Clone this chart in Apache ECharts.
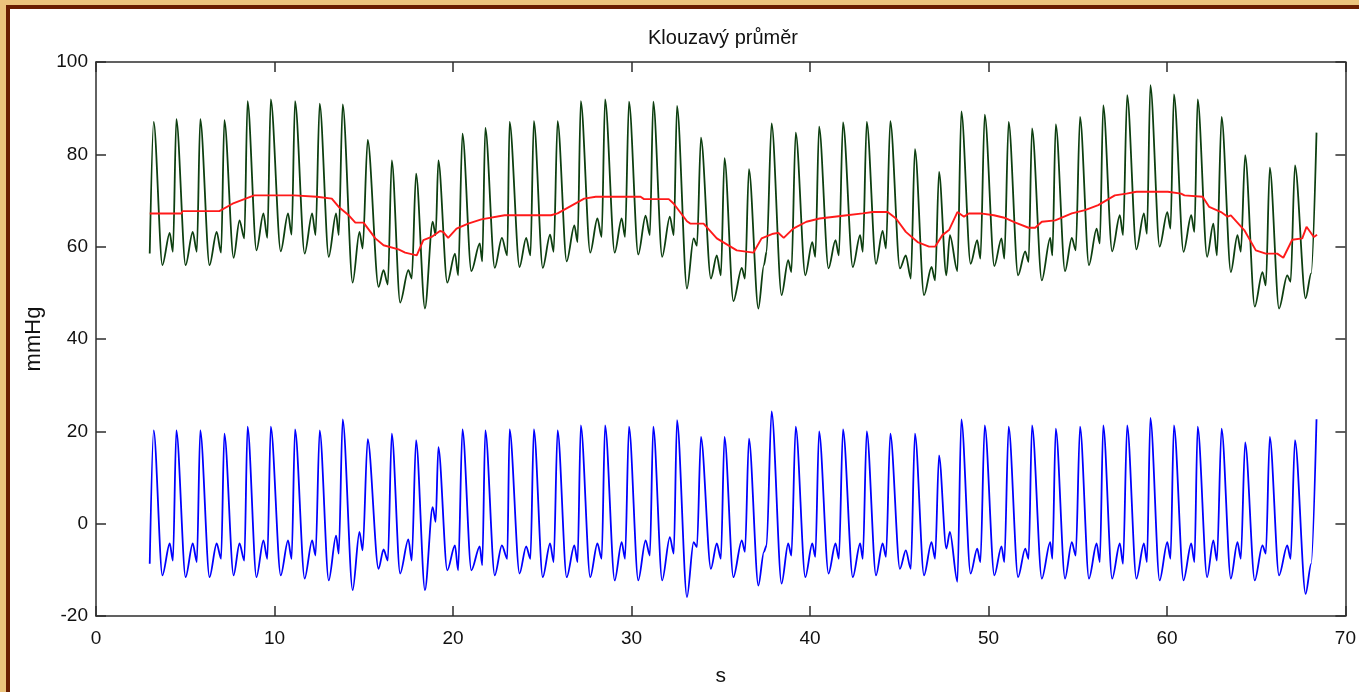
<!DOCTYPE html>
<html>
<head>
<meta charset="utf-8">
<script src="https://cdn.jsdelivr.net/npm/echarts@6/dist/echarts.min.js"></script>
<style>
html,body{margin:0;padding:0;background:#fff;}
#chart{width:1359px;height:692px;}
</style>
</head>
<body>
<div id="chart"></div>
<script>
// Key sample times (s) of the pressure waveform: start, then per beat peak / minimum / hump / pre-rise dip
const sampleTimes = [
  3.01,
  3.23, 3.72, 4.13, 4.31,
  4.50, 5.02, 5.42, 5.65,
  5.84, 6.36, 6.76, 7.01,
  7.19, 7.71, 8.04, 8.31,
  8.49, 8.99, 9.38, 9.60,
  9.79, 10.35, 10.76, 10.96,
  11.15, 11.69, 12.11, 12.30,
  12.53, 13.04, 13.45, 13.60,
  13.82, 14.38, 14.76, 14.94,
  15.22, 15.83, 16.11, 16.35,
  16.57, 17.04, 17.50, 17.69,
  17.93, 18.43, 18.86, 19.03,
  19.18, 19.68, 20.11, 20.29,
  20.53, 21.03, 21.50, 21.64,
  21.81, 22.34, 22.74, 23.04,
  23.17, 23.73, 24.10, 24.34,
  24.53, 25.03, 25.44, 25.64,
  25.86, 26.37, 26.80, 26.98,
  27.16, 27.69, 28.09, 28.33,
  28.52, 29.06, 29.45, 29.64,
  29.86, 30.38, 30.79, 31.03,
  31.22, 31.72, 32.15, 32.37,
  32.55, 33.11, 33.48, 33.67,
  33.89, 34.45, 34.78, 35.01,
  35.21, 35.71, 36.18, 36.36,
  36.58, 37.11, 37.42, 37.57,
  37.85, 38.41, 38.78, 38.96,
  39.20, 39.74, 40.13, 40.30,
  40.51, 41.04, 41.43, 41.62,
  41.85, 42.40, 42.81, 42.96,
  43.18, 43.70, 44.07, 44.26,
  44.50, 45.04, 45.37, 45.65,
  45.88, 46.39, 46.81, 47.01,
  47.23, 47.64, 47.84, 48.26,
  48.48, 49.00, 49.37, 49.55,
  49.79, 50.33, 50.73, 50.89,
  51.13, 51.66, 52.06, 52.25,
  52.44, 52.99, 53.46, 53.58,
  53.77, 54.29, 54.67, 54.89,
  55.13, 55.63, 56.06, 56.24,
  56.43, 56.93, 57.36, 57.54,
  57.77, 58.29, 58.71, 58.88,
  59.07, 59.59, 60.02, 60.20,
  60.39, 60.93, 61.36, 61.54,
  61.72, 62.25, 62.60, 62.80,
  63.06, 63.58, 63.95, 64.14,
  64.38, 64.92, 65.35, 65.54,
  65.76, 66.28, 66.74, 66.93,
  67.17, 67.77, 68.08,
  68.38
];

// Blood pressure signal (mmHg) at those times
const pressure = [
  58.5,
  87.0, 56.0, 63.0, 58.9,
  87.6, 56.0, 63.2, 58.9,
  87.6, 56.0, 63.2, 58.7,
  87.4, 57.6, 65.7, 61.8,
  91.5, 59.2, 67.2, 61.9,
  91.9, 59.0, 67.2, 62.6,
  91.5, 58.5, 67.2, 62.5,
  91.0, 57.8, 67.2, 62.5,
  90.8, 52.2, 63.2, 59.6,
  83.1, 51.3, 54.9, 51.8,
  78.7, 47.9, 54.9, 53.1,
  75.8, 46.6, 65.4, 62.5,
  78.7, 52.2, 58.5, 53.8,
  84.5, 54.7, 60.7, 56.8,
  85.7, 55.4, 61.9, 58.1,
  87.0, 55.6, 61.9, 58.1,
  87.2, 55.4, 62.6, 58.9,
  87.2, 56.8, 64.6, 61.0,
  91.5, 58.7, 66.1, 62.1,
  91.9, 58.7, 66.1, 62.1,
  91.4, 58.3, 66.7, 62.5,
  91.4, 57.8, 66.5, 62.5,
  90.5, 50.9, 61.8, 60.2,
  83.6, 53.1, 58.1, 53.8,
  79.2, 48.2, 55.4, 53.1,
  76.8, 46.6, 56.0, 58.9,
  86.7, 49.5, 57.1, 54.5,
  84.7, 53.8, 61.0, 57.8,
  86.0, 55.3, 61.4, 58.1,
  86.9, 55.6, 62.5, 58.9,
  87.0, 56.3, 63.4, 59.6,
  87.2, 55.3, 58.1, 53.1,
  81.1, 49.5, 55.6, 52.7,
  76.2, 53.8, 62.5, 54.7,
  89.3, 56.3, 61.4, 57.4,
  88.6, 55.8, 61.8, 57.4,
  87.0, 53.8, 59.0, 56.7,
  85.6, 52.7, 61.9, 58.1,
  86.5, 54.7, 61.9, 59.2,
  88.1, 56.0, 63.9, 60.7,
  90.6, 59.0, 66.8, 62.5,
  92.8, 59.4, 67.2, 62.8,
  95.0, 60.0, 67.5, 63.9,
  93.0, 58.9, 66.8, 63.2,
  91.9, 57.8, 65.0, 58.1,
  88.1, 54.5, 62.5, 58.9,
  79.8, 47.0, 54.5, 51.6,
  77.1, 46.6, 53.8, 52.4,
  77.6, 48.8, 54.2,
  84.7
];

// Signal with the moving average removed (mmHg) at the same times
const detrended = [
  -8.7,
  20.2, -11.2, -4.3, -8.0,
  20.2, -11.6, -4.3, -8.3,
  20.2, -11.6, -4.3, -7.6,
  19.5, -11.2, -4.3, -8.0,
  21.0, -11.6, -3.6, -7.6,
  21.0, -11.2, -3.6, -7.6,
  20.4, -11.9, -3.6, -6.9,
  20.2, -12.3, -2.6, -6.5,
  22.6, -14.4, -1.8, -5.8,
  18.3, -9.8, -5.6, -8.0,
  19.5, -10.8, -3.4, -8.0,
  18.1, -14.4, 3.6, 0.4,
  16.6, -10.1, -4.7, -10.1,
  20.4, -10.1, -4.9, -9.0,
  20.2, -11.2, -4.7, -7.6,
  20.4, -10.8, -4.9, -7.6,
  20.4, -11.6, -4.3, -8.3,
  20.2, -11.6, -4.7, -8.3,
  21.3, -11.6, -4.3, -7.6,
  21.3, -12.3, -4.0, -7.6,
  21.0, -12.3, -3.6, -6.9,
  21.0, -12.3, -2.9, -6.5,
  22.4, -15.9, -4.0, -5.1,
  18.8, -9.8, -4.3, -7.6,
  18.8, -11.6, -3.6, -6.1,
  18.4, -13.4, -6.1, -4.7,
  24.3, -13.0, -4.3, -6.9,
  21.0, -11.6, -4.3, -7.2,
  20.0, -10.8, -4.3, -7.6,
  20.4, -11.6, -4.3, -7.6,
  20.0, -11.2, -4.3, -7.2,
  19.5, -9.8, -5.8, -9.8,
  19.5, -11.2, -4.0, -7.6,
  14.8, -5.4, -1.8, -12.6,
  22.6, -10.8, -5.4, -8.3,
  21.3, -11.2, -4.9, -8.3,
  21.0, -11.6, -5.4, -7.6,
  21.3, -11.9, -4.0, -7.6,
  20.6, -11.9, -4.0, -6.9,
  21.0, -11.9, -4.3, -8.3,
  21.3, -11.9, -4.3, -8.7,
  21.3, -11.9, -4.3, -8.3,
  22.9, -12.3, -4.0, -7.6,
  21.3, -12.3, -4.3, -8.3,
  21.0, -11.6, -3.6, -8.0,
  20.6, -11.9, -4.0, -7.6,
  17.6, -12.3, -4.7, -6.5,
  18.8, -11.2, -4.7, -7.6,
  18.1, -15.2, -8.7,
  22.6
];

// Moving average (mmHg)
const avgTimes = [
  3.01, 4.78, 4.85, 6.91, 7.65, 8.86, 11.09, 11.20, 12.37, 12.43, 13.21, 13.60,
  14.16, 14.53, 14.99, 15.65, 16.11, 16.95, 17.32, 17.97, 18.34, 18.80, 19.27,
  19.45, 19.73, 20.20, 20.85, 21.59, 22.89, 25.49, 25.86, 27.35, 28.00, 30.51,
  30.70, 32.09, 32.37, 33.11, 33.29, 34.04, 34.78, 35.90, 36.83, 37.29, 37.94,
  38.22, 38.53, 39.06, 39.80, 40.54, 41.84, 42.96, 43.52, 44.35, 44.82, 45.37,
  46.03, 46.67, 47.01, 47.42, 47.79, 48.26, 48.63, 48.90, 49.55, 49.65, 50.30,
  50.95, 51.51, 52.25, 52.62, 52.99, 53.74, 54.67, 55.41, 56.15, 57.08, 57.73,
  58.29, 60.05, 60.79, 60.98, 62.00, 62.37, 63.03, 63.40, 63.58, 64.33, 64.98,
  65.54, 66.18, 66.52, 67.02, 67.58, 67.82, 68.23, 68.41
];
const avgValues = [
  67.2, 67.2, 67.7, 67.7, 69.3, 71.1, 71.1, 70.8, 70.8, 70.4, 70.4, 68.6,
  66.8, 65.2, 65.2, 61.8, 60.3, 59.4, 58.7, 58.1, 61.4, 62.1, 63.4,
  63.2, 61.9, 63.9, 65.0, 65.9, 66.8, 66.8, 67.2, 70.4, 70.8, 70.8,
  70.3, 70.3, 69.3, 65.5, 65.0, 65.0, 61.8, 59.2, 58.7, 61.8, 62.8,
  63.0, 61.9, 63.9, 65.4, 66.1, 66.7, 67.2, 67.5, 67.5, 66.1, 63.2,
  61.0, 60.0, 60.0, 62.5, 63.6, 67.5, 66.5, 67.2, 67.2, 66.8, 66.8,
  66.2, 65.2, 64.1, 64.1, 65.4, 65.7, 67.2, 67.9, 69.0, 71.1, 71.5,
  71.9, 71.9, 71.5, 71.1, 70.8, 68.6, 67.5, 66.5, 66.8, 63.6, 59.2,
  58.5, 58.5, 57.6, 61.5, 61.8, 64.3, 62.1, 62.6
];

const titleText = 'Klouzavý průměr';
const xName = 's';
const yName = 'mmHg';

const FONT = "'Liberation Sans', Arial, sans-serif";
const axisCol = '#2e2e2e';

const chart = echarts.init(document.getElementById('chart'), null, {renderer: 'canvas'});

const pair = (ts, vs) => ts.map((t, i) => [t, vs[i]]);

const baseAxis = {
  axisLine: {show: true, onZero: false, lineStyle: {color: axisCol, width: 1.5}},
  axisTick: {show: true, inside: true, length: 10, lineStyle: {color: axisCol, width: 1.5}},
  splitLine: {show: false}
};

chart.setOption({
  animation: false,
  backgroundColor: '#ffffff',
  title: {
    text: titleText,
    left: 718,
    top: 23,
    textAlign: 'center',
    textStyle: {fontFamily: FONT, fontSize: 20, fontWeight: 'normal', color: '#111'}
  },
  grid: {left: 96, top: 62, right: 6, bottom: 74, containLabel: false},
  xAxis: [
    Object.assign({}, baseAxis, {
      type: 'value', min: 0, max: 70, interval: 10, position: 'bottom',
      name: xName, nameLocation: 'middle', nameGap: 50,
      nameTextStyle: {fontFamily: FONT, fontSize: 21, color: '#111'},
      axisLabel: {fontFamily: FONT, fontSize: 19, color: '#111', margin: 13}
    }),
    Object.assign({}, baseAxis, {
      type: 'value', min: 0, max: 70, interval: 10, position: 'top',
      axisLabel: {show: false}
    })
  ],
  yAxis: [
    Object.assign({}, baseAxis, {
      type: 'value', min: -20, max: 100, interval: 20, position: 'left',
      name: yName, nameLocation: 'middle', nameGap: 51, nameRotate: 90,
      nameTextStyle: {fontFamily: FONT, fontSize: 22, color: '#111'},
      axisLabel: {fontFamily: FONT, fontSize: 19, color: '#111', margin: 8}
    }),
    Object.assign({}, baseAxis, {
      type: 'value', min: -20, max: 100, interval: 20, position: 'right',
      axisLabel: {show: false}
    })
  ],
  series: [
    {
      name: 'tlak', type: 'line', data: pair(sampleTimes, pressure),
      showSymbol: false, symbol: 'none', smooth: 0.3, smoothMonotone: 'x',
      lineStyle: {color: '#0d3f10', width: 1.8}, z: 2
    },
    {
      name: 'klouzavý průměr', type: 'line', data: pair(avgTimes, avgValues),
      showSymbol: false, symbol: 'none',
      lineStyle: {color: '#ff1a1a', width: 1.9}, z: 3
    },
    {
      name: 'bez trendu', type: 'line', data: pair(sampleTimes, detrended),
      showSymbol: false, symbol: 'none', smooth: 0.3, smoothMonotone: 'x',
      lineStyle: {color: '#0000ff', width: 1.8}, z: 2
    }
  ],
  graphic: [
    {type: 'rect', left: 0, top: 0, shape: {width: 1359, height: 5}, style: {fill: '#ecc47c'}, silent: true, z: 100},
    {type: 'rect', left: 0, top: 0, shape: {width: 6, height: 692}, style: {fill: '#ecc47c'}, silent: true, z: 100},
    {type: 'rect', left: 6, top: 5, shape: {width: 1353, height: 4}, style: {fill: '#6a1e00'}, silent: true, z: 101},
    {type: 'rect', left: 6, top: 5, shape: {width: 4, height: 687}, style: {fill: '#6a1e00'}, silent: true, z: 101}
  ]
});
</script>
</body>
</html>
